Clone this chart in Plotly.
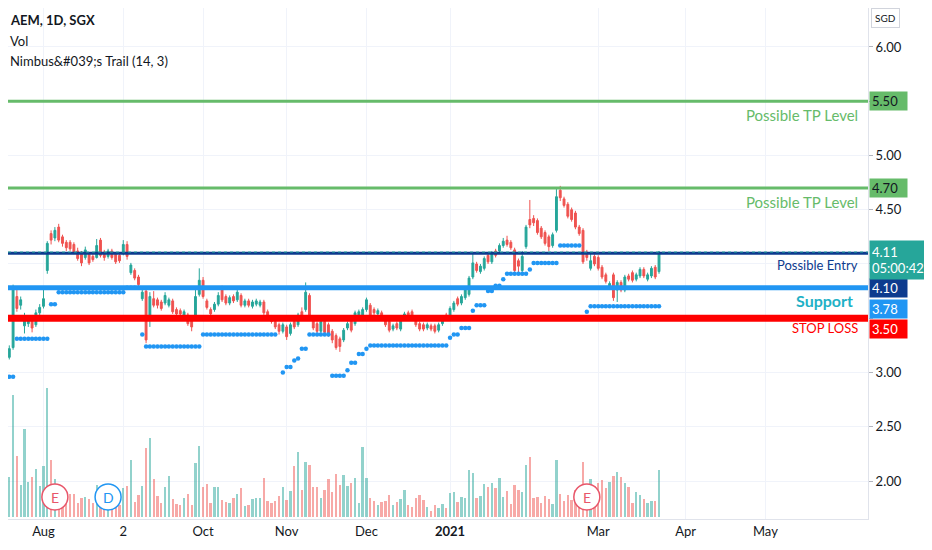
import pandas as pd
import plotly.graph_objects as go

# AEM, 1D, SGX - daily bars 16 Jul 2020 to 23 Mar 2021
sgx_holidays = ["2020-07-31", "2020-08-10", "2020-12-25", "2021-01-01", "2021-02-12"]
dates = pd.bdate_range("2020-07-16", "2021-03-23", freq="C", holidays=sgx_holidays)

opens = [
    3.08, 3.06, 3.14, 3.23, 3.70, 3.62, 3.43, 3.45, 3.50, 3.44,
    3.55, 3.61, 3.94, 4.28, 4.24, 4.34, 4.25, 4.20, 4.20, 4.18,
    4.12, 4.10, 4.06, 4.09, 4.07, 4.06, 4.22, 4.11, 4.07, 4.12,
    4.09, 4.08, 4.10, 4.18, 3.92, 3.94, 3.88, 3.68, 3.75, 3.48,
    3.68, 3.67, 3.65, 3.64, 3.62, 3.66, 3.58, 3.57, 3.52, 3.53,
    3.50, 3.52, 3.72, 3.85, 3.66, 3.58, 3.58, 3.63, 3.76, 3.70,
    3.64, 3.70, 3.67, 3.71, 3.62, 3.66, 3.61, 3.63, 3.62, 3.65,
    3.56, 3.51, 3.47, 3.44, 3.38, 3.42, 3.36, 3.47, 3.44, 3.56,
    3.58, 3.71, 3.50, 3.45, 3.38, 3.47, 3.44, 3.38, 3.34, 3.31,
    3.30, 3.41, 3.48, 3.45, 3.51, 3.51, 3.58, 3.62, 3.58, 3.54,
    3.55, 3.48, 3.47, 3.40, 3.45, 3.40, 3.50, 3.55, 3.56, 3.49,
    3.45, 3.44, 3.41, 3.43, 3.43, 3.39, 3.45, 3.53, 3.52, 3.58,
    3.68, 3.64, 3.69, 3.72, 3.88, 4.00, 3.93, 3.96, 4.08, 4.02,
    4.12, 4.12, 4.17, 4.22, 4.20, 4.13, 4.03, 3.94, 4.16, 4.41,
    4.42, 4.40, 4.33, 4.29, 4.25, 4.17, 4.31, 4.68, 4.60, 4.55,
    4.50, 4.47, 4.34, 4.31, 4.11, 3.96, 4.07, 4.06, 3.97, 3.90,
    3.78, 3.90, 3.76, 3.83, 3.76, 3.89, 3.92, 3.86, 3.89, 3.95,
    3.86, 3.89, 3.97, 3.93,
]
highs = [
    3.10, 3.16, 3.25, 3.81, 3.79, 3.70, 3.55, 3.52, 3.53, 3.58,
    3.63, 3.79, 4.21, 4.31, 4.34, 4.37, 4.27, 4.22, 4.22, 4.20,
    4.15, 4.12, 4.16, 4.11, 4.09, 4.23, 4.24, 4.13, 4.14, 4.14,
    4.11, 4.10, 4.22, 4.21, 4.01, 3.96, 3.90, 3.77, 3.77, 3.74,
    3.75, 3.69, 3.67, 3.74, 3.69, 3.68, 3.60, 3.59, 3.58, 3.55,
    3.52, 3.76, 3.96, 3.88, 3.68, 3.60, 3.65, 3.74, 3.80, 3.72,
    3.71, 3.72, 3.76, 3.73, 3.68, 3.68, 3.67, 3.68, 3.67, 3.67,
    3.58, 3.53, 3.49, 3.46, 3.46, 3.44, 3.46, 3.50, 3.55, 3.60,
    3.83, 3.73, 3.52, 3.47, 3.49, 3.49, 3.46, 3.40, 3.36, 3.33,
    3.41, 3.47, 3.50, 3.57, 3.58, 3.60, 3.69, 3.64, 3.60, 3.59,
    3.57, 3.50, 3.49, 3.45, 3.47, 3.51, 3.56, 3.57, 3.58, 3.51,
    3.47, 3.46, 3.46, 3.45, 3.45, 3.46, 3.53, 3.55, 3.61, 3.66,
    3.70, 3.72, 3.78, 3.89, 4.10, 4.02, 4.00, 4.07, 4.10, 4.12,
    4.14, 4.19, 4.24, 4.26, 4.22, 4.15, 4.05, 4.12, 4.36, 4.59,
    4.45, 4.42, 4.35, 4.31, 4.27, 4.29, 4.70, 4.72, 4.62, 4.57,
    4.52, 4.49, 4.36, 4.33, 4.13, 4.10, 4.09, 4.08, 3.99, 3.92,
    3.84, 3.92, 3.85, 3.85, 3.90, 3.91, 3.94, 3.92, 3.97, 3.97,
    3.92, 3.98, 3.99, 4.12,
]
lows = [
    3.00, 3.04, 3.12, 3.21, 3.56, 3.58, 3.36, 3.42, 3.37, 3.42,
    3.53, 3.59, 3.91, 4.18, 4.21, 4.20, 4.16, 4.12, 4.12, 4.09,
    4.03, 3.98, 4.04, 3.99, 4.02, 4.05, 4.06, 4.03, 4.05, 4.04,
    4.00, 4.01, 4.08, 4.04, 3.90, 3.85, 3.78, 3.66, 3.27, 3.42,
    3.60, 3.59, 3.57, 3.62, 3.60, 3.54, 3.52, 3.52, 3.50, 3.43,
    3.38, 3.50, 3.70, 3.68, 3.58, 3.52, 3.56, 3.61, 3.65, 3.62,
    3.62, 3.64, 3.65, 3.60, 3.60, 3.60, 3.59, 3.61, 3.60, 3.53,
    3.50, 3.45, 3.40, 3.35, 3.36, 3.30, 3.34, 3.40, 3.42, 3.50,
    3.56, 3.50, 3.39, 3.36, 3.36, 3.35, 3.33, 3.27, 3.21, 3.19,
    3.28, 3.39, 3.37, 3.43, 3.49, 3.49, 3.56, 3.51, 3.53, 3.52,
    3.48, 3.42, 3.37, 3.38, 3.39, 3.38, 3.48, 3.50, 3.50, 3.42,
    3.38, 3.38, 3.39, 3.38, 3.36, 3.37, 3.43, 3.48, 3.50, 3.56,
    3.61, 3.62, 3.67, 3.70, 3.86, 3.92, 3.91, 3.94, 4.00, 4.00,
    4.06, 4.10, 4.15, 4.16, 4.13, 3.91, 3.92, 3.90, 4.14, 4.33,
    4.35, 4.27, 4.23, 4.17, 4.12, 4.15, 4.29, 4.58, 4.52, 4.42,
    4.39, 4.32, 4.26, 4.00, 4.03, 3.94, 3.98, 3.94, 3.86, 3.82,
    3.76, 3.66, 3.65, 3.74, 3.74, 3.84, 3.83, 3.84, 3.87, 3.87,
    3.84, 3.87, 3.86, 3.91,
]
closes = [
    3.03, 3.14, 3.22, 3.78, 3.59, 3.67, 3.50, 3.48, 3.41, 3.55,
    3.60, 3.68, 4.19, 4.22, 4.31, 4.22, 4.19, 4.15, 4.14, 4.11,
    4.05, 4.01, 4.13, 4.01, 4.04, 4.17, 4.08, 4.06, 4.12, 4.06,
    4.02, 4.03, 4.18, 4.07, 3.99, 3.87, 3.81, 3.74, 3.30, 3.70,
    3.62, 3.62, 3.59, 3.71, 3.67, 3.56, 3.54, 3.54, 3.56, 3.45,
    3.42, 3.70, 3.85, 3.70, 3.60, 3.54, 3.63, 3.71, 3.67, 3.64,
    3.69, 3.66, 3.74, 3.62, 3.66, 3.62, 3.65, 3.66, 3.65, 3.55,
    3.52, 3.47, 3.42, 3.38, 3.44, 3.33, 3.44, 3.42, 3.53, 3.52,
    3.74, 3.52, 3.41, 3.38, 3.47, 3.37, 3.35, 3.30, 3.23, 3.24,
    3.39, 3.45, 3.39, 3.55, 3.56, 3.58, 3.67, 3.53, 3.55, 3.57,
    3.50, 3.44, 3.39, 3.43, 3.41, 3.49, 3.54, 3.52, 3.52, 3.44,
    3.40, 3.40, 3.44, 3.40, 3.38, 3.44, 3.51, 3.50, 3.59, 3.64,
    3.63, 3.70, 3.76, 3.87, 4.01, 3.94, 3.98, 4.05, 4.02, 4.10,
    4.08, 4.17, 4.21, 4.18, 4.15, 3.94, 3.98, 4.07, 4.34, 4.36,
    4.38, 4.29, 4.25, 4.19, 4.16, 4.27, 4.62, 4.61, 4.54, 4.44,
    4.41, 4.34, 4.28, 4.02, 4.06, 4.03, 4.00, 3.96, 3.88, 3.84,
    3.82, 3.69, 3.83, 3.76, 3.88, 3.86, 3.85, 3.90, 3.95, 3.89,
    3.90, 3.96, 3.88, 4.11,
]
# volume, millions of shares (estimated)
volumes = [
    1.90, 3.07, 4.00, 12.17, 6.10, 3.17, 8.77, 3.43, 3.93, 4.80,
    3.07, 5.07, 12.90, 5.67, 3.80, 2.30, 2.30, 2.40, 2.30, 2.27,
    1.40, 1.83, 1.93, 1.73, 1.40, 3.17, 1.30, 1.50, 1.40, 1.40,
    1.17, 1.20, 2.90, 3.07, 5.67, 1.50, 2.17, 3.07, 6.90, 7.83,
    3.73, 2.07, 1.40, 3.00, 4.10, 1.73, 1.27, 1.17, 1.90, 2.27,
    1.17, 5.33, 7.07, 2.93, 3.23, 1.33, 3.00, 3.00, 1.67, 1.50,
    1.40, 1.83, 2.27, 2.87, 1.07, 1.20, 1.80, 1.90, 1.90, 3.90,
    1.57, 1.33, 1.57, 2.03, 3.00, 1.67, 2.57, 5.10, 6.50, 2.67,
    5.50, 5.17, 2.93, 3.00, 1.83, 2.67, 3.77, 2.50, 4.23, 3.17,
    4.17, 3.07, 3.33, 3.87, 1.33, 6.93, 3.90, 1.90, 1.57, 1.20,
    1.43, 1.57, 2.20, 1.17, 1.43, 1.73, 2.67, 1.17, 1.00, 1.83,
    2.17, 1.67, 1.00, 0.60, 1.17, 0.83, 1.23, 0.83, 2.33, 2.50,
    1.47, 1.93, 1.90, 4.67, 4.33, 1.83, 2.07, 3.23, 3.00, 3.40,
    2.90, 3.90, 1.93, 2.60, 1.27, 3.17, 2.67, 2.47, 5.17, 5.93,
    1.83, 1.93, 1.40, 2.10, 1.73, 1.23, 5.67, 2.27, 1.57, 2.20,
    1.67, 2.67, 2.00, 5.50, 1.67, 3.73, 3.07, 3.33, 3.67, 2.90,
    3.47, 4.07, 4.47, 3.97, 3.40, 3.00, 1.40, 2.50, 2.17, 1.73,
    1.33, 1.57, 1.57, 4.67,
]
# Nimbus's Trail (14, 3) dots, None where no dot is drawn
trail = [
    2.96, 2.96, 2.96, 2.96, 3.31, 3.31, 3.31, 3.31, 3.31, 3.31,
    3.31, 3.31, 3.31, 3.63, 3.63, 3.74, 3.74, 3.74, 3.74, 3.74,
    3.74, 3.74, 3.74, 3.74, 3.74, 3.74, 3.74, 3.74, 3.74, 3.74,
    3.74, 3.74, 3.74, 3.78, 3.78, 3.78, None, 3.35, 3.24, 3.24,
    3.24, 3.24, 3.24, 3.24, 3.24, 3.24, 3.24, 3.24, 3.24, 3.24,
    3.24, 3.24, 3.24, 3.35, 3.35, 3.35, 3.35, 3.35, 3.35, 3.35,
    3.35, 3.35, 3.35, 3.35, 3.35, 3.35, 3.35, 3.35, 3.35, 3.35,
    3.35, 3.35, 3.35, None, 3.00, 3.05, 3.05, 3.11, 3.13, 3.22,
    3.22, 3.35, 3.35, 3.35, 3.35, 3.35, 3.35, 2.97, 2.97, 2.97,
    2.97, 3.02, 3.09, 3.09, 3.17, 3.17, 3.22, 3.25, 3.25, 3.25,
    3.25, 3.25, 3.25, 3.25, 3.25, 3.25, 3.25, 3.25, 3.25, 3.25,
    3.25, 3.25, 3.25, 3.25, 3.25, 3.25, 3.25, 3.25, 3.32, 3.35,
    3.35, 3.41, 3.41, 3.41, 3.57, 3.62, 3.62, 3.62, 3.75, 3.75,
    3.80, 3.80, 3.86, 3.91, 3.91, 3.91, 3.91, 3.91, 3.91, 3.95,
    4.01, 4.01, 4.01, 4.01, 4.01, 4.01, 4.01, 4.17, 4.17, 4.17,
    4.17, 4.17, 4.17, None, 3.56, 3.61, 3.61, 3.61, 3.61, 3.61,
    3.61, 3.61, 3.61, 3.61, 3.61, 3.61, 3.61, 3.61, 3.61, 3.61,
    3.61, 3.61, 3.61, 3.61,
]

# drawn horizontal levels and their notes
levels = [5.50, 4.70, 4.10, 3.78, 3.50]
level_notes = ["Possible TP Level", "Possible TP Level", "Possible Entry", "Support", "STOP LOSS"]
last_price = 4.11
countdown = "05:00:42"

# earnings / dividend flags
event_dates = ["2020-08-06", "2020-08-27", "2021-02-24"]
event_letters = ["E", "D", "E"]

month_ticks = ["2020-08-03", "2020-09-02", "2020-10-01", "2020-11-02", "2020-12-01",
               "2021-01-04", "2021-03-01", "2021-04-01", "2021-05-03"]
month_labels = ["Aug", "2", "Oct", "Nov", "Dec", "<b>2021</b>", "Mar", "Apr", "May"]
price_ticks = [2.0, 2.5, 3.0, 3.5, 4.0, 4.5, 5.0, 5.5, 6.0]
# 3.50, 4.00 and 5.50 sit under the price tags, so only their grid lines show
price_labels = ["2.00", "2.50", "3.00", "", "", "4.50", "5.00", "", "6.00"]

UP = "#26a69a"
DOWN = "#ef5350"
vol_colors = ["rgba(38,166,154,0.5)" if c >= o else "rgba(239,83,80,0.5)" for o, c in zip(opens, closes)]

fig = go.Figure()

fig.add_trace(go.Bar(x=dates, y=volumes, marker_color=vol_colors, marker_line_width=0,
                     width=0.62 * 86400000, yaxis="y2", hoverinfo="skip"))

fig.add_trace(go.Candlestick(
    x=dates, open=opens, high=highs, low=lows, close=closes,
    increasing=dict(line=dict(color=UP, width=1), fillcolor=UP),
    decreasing=dict(line=dict(color=DOWN, width=1), fillcolor=DOWN),
    whiskerwidth=0,
))

fig.add_trace(go.Scatter(x=dates, y=trail, mode="markers",
                         marker=dict(color="#2196f3", size=4.5), hoverinfo="skip"))

# horizontal lines
line_styles = [("#66bb6a", 3), ("#66bb6a", 3), ("#0d3b8e", 3), ("#2196f3", 5), ("#ff0000", 7)]
for lv, (col, w) in zip(levels, line_styles):
    fig.add_shape(type="line", xref="paper", x0=0, x1=1, yref="y", y0=lv, y1=lv,
                  line=dict(color=col, width=w))
# current price dotted line
fig.add_shape(type="line", xref="paper", x0=0, x1=1, yref="y", y0=last_price, y1=last_price,
              line=dict(color=UP, width=1, dash="dot"))

# notes under the lines
note_styles = [
    dict(color="#66bb6a", size=15, shift=-14, bold=False, xs=-8),
    dict(color="#66bb6a", size=15, shift=-14, bold=False, xs=-8),
    dict(color="#0d3b8e", size=13, shift=-12, bold=False, xs=-8),
    dict(color="#1fb1c6", size=16, shift=-13, bold=True, xs=-13),
    dict(color="#ff0000", size=13, shift=-10, bold=False, xs=-8),
]
for lv, txt, st in zip(levels, level_notes, note_styles):
    fig.add_annotation(x=1, xref="paper", y=lv, yref="y", xanchor="right", yanchor="middle",
                       text=f"<b>{txt}</b>" if st["bold"] else txt, showarrow=False,
                       xshift=st["xs"], yshift=st["shift"],
                       font=dict(family="Lato", size=st["size"], color=st["color"]))

# price tags on the axis
tag_styles = [("#66bb6a", "#131722", 0), ("#66bb6a", "#131722", 0), ("#0d3b8e", "white", -35),
              ("#2196f3", "white", -21), ("#ff0000", "white", -11)]
for lv, (bg, fg, ys) in zip(levels, tag_styles):
    fig.add_annotation(x=1, xref="paper", y=lv, yref="y", xanchor="left", yanchor="middle",
                       text=f"{lv:.2f}", showarrow=False, bgcolor=bg, borderpad=2,
                       width=33, height=14, align="left", yshift=ys, xshift=1,
                       font=dict(family="Lato", size=13, color=fg))
fig.add_annotation(x=1, xref="paper", y=last_price, yref="y", xanchor="left", yanchor="middle",
                   text=f"{last_price:.2f}<br>{countdown}", showarrow=False, bgcolor=UP,
                   borderpad=2, width=55, height=34, align="left", yshift=-8, xshift=1,
                   font=dict(family="Lato", size=13, color="white"))

# E / D flags
for d, letter in zip(event_dates, event_letters):
    col = "#2196f3" if letter == "D" else "#e8566a"
    fig.add_shape(type="circle", xref="x", yref="paper", xsizemode="pixel", ysizemode="pixel",
                  xanchor=d, yanchor=0.043, x0=-13, x1=13, y0=-13, y1=13,
                  fillcolor="white", line=dict(color=col, width=1.5))
    fig.add_annotation(x=d, xref="x", y=0.043, yref="paper", xanchor="center", yanchor="middle",
                       text=letter, showarrow=False,
                       font=dict(family="Lato", size=14, color=col))

# header
header = ["<b>AEM, 1D, SGX</b>", "Vol", "Nimbus&amp;#039;s Trail (14, 3)"]
for i, txt in enumerate(header):
    fig.add_annotation(x=0, xref="paper", y=1, yref="paper", xanchor="left", yanchor="middle",
                       xshift=0, yshift=-12 - 20.5 * i, text=txt, showarrow=False,
                       font=dict(family="Lato", size=13, color="#131722"))

fig.add_annotation(x=1.037, xref="paper", y=1, yref="paper", yanchor="middle", yshift=-10,
                   text="SGD", showarrow=False, bordercolor="#d1d4dc", borderwidth=1, borderpad=3,
                   font=dict(family="Lato", size=10, color="#131722"))

# the page body adds an 8px margin, so the figure is sized to fit inside it
fig.update_layout(
    width=916, height=534,
    margin=dict(l=0, r=56, t=0, b=23),
    paper_bgcolor="white", plot_bgcolor="white",
    showlegend=False,
    font=dict(family="Lato", size=12, color="#131722"),
    xaxis=dict(
        type="date",
        range=["2020-07-17 15:50", "2021-06-09 00:00"],
        rangebreaks=[dict(bounds=["sat", "mon"]), dict(values=sgx_holidays + ["2021-04-02"])],
        rangeslider=dict(visible=False),
        tickvals=month_ticks, ticktext=month_labels,
        showgrid=True, gridcolor="#f0f3fa", gridwidth=1,
        ticks="", tickfont=dict(size=13, color="#131722"),
        showline=True, linecolor="#e0e3eb", zeroline=False,
    ),
    yaxis=dict(
        side="right", range=[1.650, 6.359],
        tickvals=price_ticks, ticktext=price_labels,
        showgrid=True, gridcolor="#f0f3fa", gridwidth=1,
        ticks="outside", ticklen=4, tickcolor="#b2b5be",
        tickfont=dict(size=13, color="#131722"),
        showline=True, linecolor="#e0e3eb", zeroline=False,
    ),
    yaxis2=dict(overlaying="y", range=[-0.23, 50.87], visible=False),
    bargap=0,
)

fig.write_html("out.html")
